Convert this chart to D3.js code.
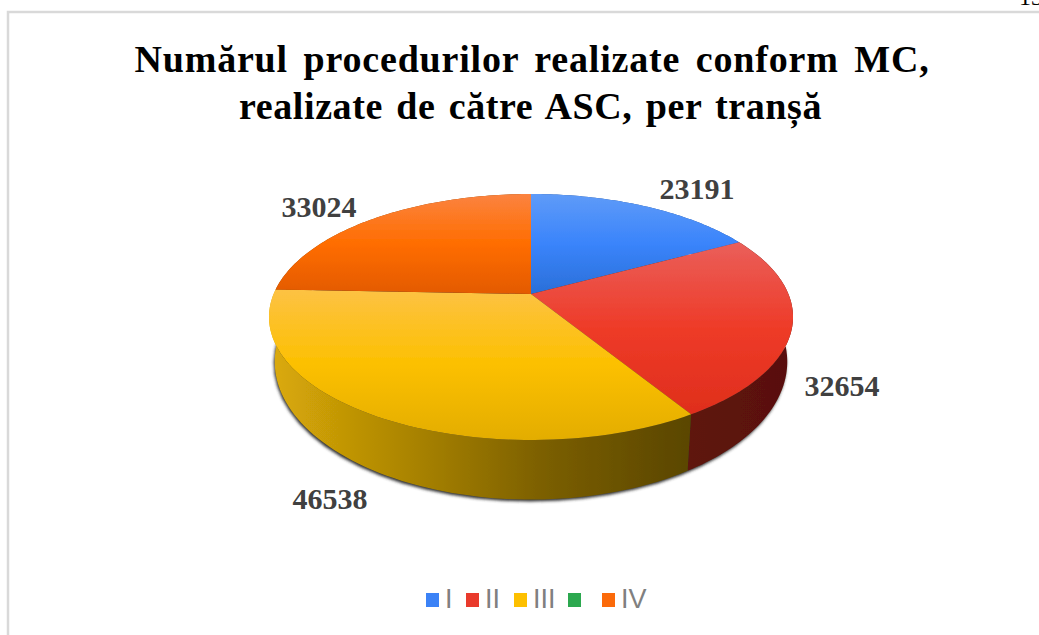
<!DOCTYPE html>
<html><head><meta charset="utf-8">
<script src="https://cdn.jsdelivr.net/npm/d3@7/dist/d3.min.js"></script>
<style>html,body{margin:0;padding:0;background:#fff;overflow:hidden}svg{display:block}</style>
</head><body><svg id="c" width="1039" height="635"></svg>
<script>
const titleLines = ["Numărul procedurilor realizate conform MC,", "realizate de către ASC, per tranșă"];
const categories = ["I", "II", "III", "IV"];
const legendLabels = ["I", "II", "III", "", "IV"];
const values = [23191, 32654, 46538, 33024];
const legendColors = ["#3b82f6", "#e93a2c", "#fdc000", "#2ca84f", "#fb6a0a"];
const topStops = [["#5f9bf8","#3a84fb","#2a6fd8"],["#ea5f5a","#ee3b28","#df2e1c"],["#fdc244","#fcc000","#e3ad00"],["#fb8340","#ff6d00","#e35a00"]];
const wallStops = [["#1f4f96","#1f4f96"],["#5e140b","#59100a"],["#dcab08","#5a4600"],["#8f4200","#8f4200"]];
const labelPos = [[697,199],[842,396],[330,509],[319,217]];

const svg = d3.select("#c");
const defs = svg.append("defs");

// frame
svg.append("path").attr("d","M8,635V12H1039").attr("fill","none").attr("stroke","#d9d9d9").attr("stroke-width",2.5);
svg.append("text").text("13").attr("x",1019).attr("y",5).attr("font-family","Liberation Serif").attr("font-size",24).attr("fill","#000");

// title
const titleX = [532,530.5], titleLs = [0.8,0.6], titleWs = [5.4,3.2];
svg.selectAll("text.t").data(titleLines).join("text").attr("class","t")
  .text(d=>d).attr("x",(d,i)=>titleX[i]).attr("y",(d,i)=>72+i*46.5).attr("text-anchor","middle")
  .attr("font-family","Liberation Serif").attr("font-weight","bold").attr("font-size",38)
  .attr("word-spacing",(d,i)=>titleWs[i]).attr("letter-spacing",(d,i)=>titleLs[i]).attr("fill","#000");

// perspective projection of a unit disc: top face (level 0) and base (level 1)
const px = d3.scaleLinear().domain([-1,1]).range([531-257.4,531+257.4]);
const pyTop = d3.scaleLinear().domain([-1,1]).range([294-118.7,294+118.7]);
const pyBase = d3.scaleLinear().domain([-1,1]).range([336-133,336+133]);
const k = -0.187;
function project(a, r, level){
  const x = r*Math.sin(a), y = -r*Math.cos(a), w = 1+k*y;
  const s = level ? 0.978 : 1;
  return [531+(px(x/w)-531)*s, (level?pyBase:pyTop)(y/w)];
}
const line = d3.line();
const pie = d3.pie().sort(null).startAngle(0).endAngle(2*Math.PI);
const arcs = pie(values);
const steps = (a0,a1)=>d3.range(0,73).map(i=>a0+(a1-a0)*i/72);

defs.append("filter").attr("id","sh").attr("x","-10%").attr("y","-10%").attr("width","120%").attr("height","130%")
  .append("feGaussianBlur").attr("stdDeviation",1.8);
defs.append("filter").attr("id","soft").append("feGaussianBlur").attr("stdDeviation",0.35);

arcs.forEach((d,i)=>{
  const g = defs.append("linearGradient").attr("id","top"+i).attr("x1",0).attr("x2",0).attr("y1",0).attr("y2",1);
  topStops[i].forEach((c,j)=>g.append("stop").attr("offset",[0,.5,1][j]).attr("stop-color",c));
  const w = defs.append("linearGradient").attr("id","wall"+i).attr("x1",0).attr("x2",1).attr("y1",0).attr("y2",0);
  w.append("stop").attr("offset",0).attr("stop-color",wallStops[i][0]);
  if(i===2) w.append("stop").attr("offset",.66).attr("stop-color","#7a5e00");
  w.append("stop").attr("offset",1).attr("stop-color",wallStops[i][1]);
});

// shadow of the base
svg.append("path").attr("d",line(steps(0,2*Math.PI).map(a=>project(a,1,1)))+"Z")
  .attr("transform","translate(-1,2)").attr("fill","#333").attr("filter","url(#sh)");

const pie3d = svg.append("g").attr("filter","url(#soft)");
// walls
pie3d.selectAll("path.w").data(arcs).join("path").attr("class","w")
  .attr("d",d=>{
    const a = steps(d.startAngle,d.endAngle);
    return line(a.map(t=>project(t,1,0)).concat(a.slice().reverse().map(t=>project(t,1,1))))+"Z";
  })
  .attr("fill",(d,i)=>`url(#wall${i})`);
// top faces
pie3d.selectAll("path.f").data(arcs).join("path").attr("class","f")
  .attr("d",d=>line([project(0,0,0)].concat(steps(d.startAngle,d.endAngle).map(t=>project(t,1,0))))+"Z")
  .attr("fill",(d,i)=>`url(#top${i})`);

// data labels
svg.selectAll("text.v").data(values).join("text").attr("class","v").text(d=>d)
  .attr("x",(d,i)=>labelPos[i][0]).attr("y",(d,i)=>labelPos[i][1]).attr("text-anchor","middle")
  .attr("font-family","Liberation Serif").attr("font-weight","bold").attr("font-size",30).attr("fill","#404040");

// legend
const legendX = [426,466,514,568,602];
const lg = svg.selectAll("g.l").data(legendLabels).join("g").attr("class","l")
  .attr("transform",(d,i)=>`translate(${legendX[i]},593)`);
lg.append("rect").attr("width",13).attr("height",14).attr("fill",(d,i)=>legendColors[i]);
lg.append("text").text(d=>d).attr("x",19).attr("y",14.5)
  .attr("font-family","Liberation Sans").attr("font-size",27).attr("fill","#808080");
</script></body></html>
